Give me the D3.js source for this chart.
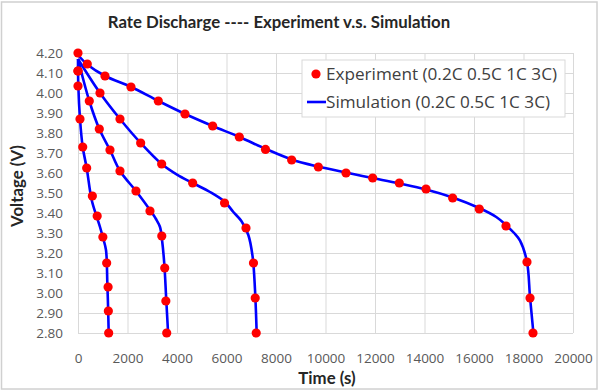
<!DOCTYPE html>
<html>
<head>
<meta charset="utf-8">
<title>Rate Discharge - Experiment v.s. Simulation</title>
<script src="https://d3js.org/d3.v7.min.js"></script>
<style>
body { margin: 0; background: #fff; }
svg { font-family: Lato, "Open Sans", sans-serif; }
.grid line { stroke: #d9d9d9; stroke-width: 1; }
.grid path { display: none; }
.tick text { fill: #595959; font-size: 13.5px; }
.sim { fill: none; stroke: #0000ff; stroke-width: 2.6; }
</style>
</head>
<body>
<div id="chart"></div>
<script>

// experiment points (time s, voltage V)
var exp02t = [0, 376, 1091, 2141, 3245, 4323, 5441, 6518, 7576, 8633, 9710, 10828, 11906, 12982, 14061, 15137, 16214, 17293, 18141, 18263, 18384];
var exp02v = [4.20, 4.145, 4.085, 4.03, 3.96, 3.895, 3.835, 3.78, 3.718, 3.665, 3.63, 3.60, 3.575, 3.55, 3.52, 3.475, 3.42, 3.335, 3.155, 2.975, 2.80];
var exp05t = [0, 889, 1697, 2532, 3380, 4633, 5920, 6788, 7090, 7160, 7200];
var exp05v = [4.11, 4.00, 3.87, 3.75, 3.645, 3.55, 3.45, 3.325, 3.15, 2.975, 2.80];
var exp1t = [0, 457, 861, 1293, 1697, 2343, 2909, 3385, 3505, 3550, 3584];
var exp1v = [4.11, 3.96, 3.82, 3.715, 3.61, 3.51, 3.41, 3.285, 3.125, 2.96, 2.80];
var exp3t = [0, 81, 190, 351, 580, 775, 1005, 1158, 1215, 1226, 1240];
var exp3v = [4.035, 3.87, 3.73, 3.625, 3.485, 3.385, 3.28, 3.15, 3.03, 2.91, 2.80];

// simulation curves
var sim02t = [0, 400, 1100, 2150, 3250, 4330, 5440, 6520, 7600, 8630, 9710, 10830, 11900, 12980, 14060, 15140, 16210, 16900, 17290, 17620, 17860, 18141, 18263, 18400];
var sim02v = [4.19, 4.14, 4.085, 4.03, 3.96, 3.895, 3.835, 3.78, 3.72, 3.668, 3.632, 3.602, 3.575, 3.548, 3.518, 3.478, 3.425, 3.38, 3.34, 3.30, 3.262, 3.155, 2.98, 2.80];
var sim05t = [0, 889, 1697, 2532, 3380, 4000, 4633, 5333, 5939, 6276, 6600, 6882, 7057, 7152, 7219];
var sim05v = [4.17, 4.00, 3.87, 3.75, 3.645, 3.592, 3.55, 3.505, 3.455, 3.405, 3.36, 3.29, 3.18, 3.015, 2.80];
var sim1t = [0, 457, 861, 1293, 1697, 2343, 2909, 3150, 3313, 3400, 3490, 3560, 3640];
var sim1v = [4.17, 3.96, 3.82, 3.715, 3.61, 3.51, 3.415, 3.37, 3.33, 3.26, 3.14, 2.98, 2.80];
var sim3t = [0, 12, 81, 190, 351, 553, 760, 889, 1024, 1131, 1185, 1215, 1240];
var sim3v = [4.17, 4.04, 3.87, 3.73, 3.625, 3.465, 3.38, 3.33, 3.27, 3.215, 3.05, 2.93, 2.80];

var xTicks = [0, 2000, 4000, 6000, 8000, 10000, 12000, 14000, 16000, 18000, 20000];
var yTicks = [2.8, 2.9, 3.0, 3.1, 3.2, 3.3, 3.4, 3.5, 3.6, 3.7, 3.8, 3.9, 4.0, 4.1, 4.2];

var width = 600;
var height = 392;
var plotL = 78, plotR = 573, plotT = 53, plotB = 333;

function zip(t, v) {
  return t.map(function(d, i) { return {t: d, v: v[i]}; });
}
var expSeries = [zip(exp02t, exp02v), zip(exp05t, exp05v), zip(exp1t, exp1v), zip(exp3t, exp3v)];
var simSeries = [zip(sim02t, sim02v), zip(sim05t, sim05v), zip(sim1t, sim1v), zip(sim3t, sim3v)];

var svg = d3.select("#chart").append("svg")
  .attr("width", width)
  .attr("height", height);

// outer frame
svg.append("rect")
  .attr("x", 1.5).attr("y", 2)
  .attr("width", 595.5).attr("height", 387)
  .attr("fill", "#fff")
  .attr("stroke", "#d0d0d0")
  .attr("stroke-width", 1.5);

/* Scale */
var x = d3.scaleLinear().domain([0, 20000]).range([plotL, plotR]);
var y = d3.scaleLinear().domain([2.8, 4.2]).range([plotB, plotT]);

/* Axes with gridlines */
svg.append("g")
  .attr("class", "grid")
  .attr("transform", "translate(0," + plotB + ")")
  .call(d3.axisBottom(x).tickValues(xTicks).tickSize(-(plotB - plotT)).tickPadding(20).tickFormat(d3.format("d")))
  .call(g => g.selectAll("text").attr("font-family", "Open Sans").attr("font-size", "13.5px"));

svg.append("g")
  .attr("class", "grid")
  .attr("transform", "translate(" + plotL + ",0)")
  .call(d3.axisLeft(y).tickValues(yTicks).tickSize(-(plotR - plotL)).tickPadding(15).tickFormat(d3.format(".2f")))
  .call(g => g.selectAll("text").attr("font-family", "Open Sans").attr("font-size", "13.5px"));

/* Simulation lines */
var line = d3.line()
  .x(d => x(d.t))
  .y(d => y(d.v))
  .curve(d3.curveCatmullRom.alpha(0.5));

svg.append("g").selectAll("path")
  .data(simSeries).enter()
  .append("path")
  .attr("class", "sim")
  .attr("d", line);

/* Experiment points */
svg.append("g").selectAll("g")
  .data(expSeries).enter()
  .append("g")
  .selectAll("circle")
  .data(d => d).enter()
  .append("circle")
  .attr("cx", d => x(d.t))
  .attr("cy", d => y(d.v))
  .attr("r", 4.6)
  .attr("fill", "#ff0000");

/* Titles */
svg.append("text")
  .attr("x", 279).attr("y", 28)
  .attr("text-anchor", "middle")
  .attr("font-weight", "bold")
  .attr("font-size", "16.8px")
  .attr("fill", "#262626")
  .text("Rate Discharge ---- Experiment v.s. Simulation");

svg.append("text")
  .attr("x", 327).attr("y", 384)
  .attr("text-anchor", "middle")
  .attr("font-weight", "bold")
  .attr("font-size", "16.8px")
  .attr("fill", "#262626")
  .text("Time (s)");

svg.append("text")
  .attr("transform", "translate(23,186) rotate(-90)")
  .attr("text-anchor", "middle")
  .attr("font-weight", "bold")
  .attr("font-size", "16.8px")
  .attr("fill", "#262626")
  .text("Voltage (V)");

/* Legend */
var legend = svg.append("g");
legend.append("rect")
  .attr("x", 302).attr("y", 60)
  .attr("width", 263).attr("height", 57)
  .attr("fill", "#fff")
  .attr("stroke", "#d9d9d9");
legend.append("circle")
  .attr("cx", 316).attr("cy", 74).attr("r", 4.6)
  .attr("fill", "#ff0000");
legend.append("line")
  .attr("x1", 307).attr("x2", 326).attr("y1", 102).attr("y2", 102)
  .attr("stroke", "#0000ff").attr("stroke-width", 2.6);
legend.append("text")
  .attr("x", 326).attr("y", 79.5)
  .attr("font-family", "Open Sans")
  .attr("font-size", "16px").attr("fill", "#404040")
  .attr("textLength", 231).attr("lengthAdjust", "spacingAndGlyphs")
  .text("Experiment (0.2C 0.5C 1C 3C)");
legend.append("text")
  .attr("x", 326).attr("y", 107.5)
  .attr("font-family", "Open Sans")
  .attr("font-size", "16px").attr("fill", "#404040")
  .attr("textLength", 224).attr("lengthAdjust", "spacingAndGlyphs")
  .text("Simulation (0.2C 0.5C 1C 3C)");

</script>
</body>
</html>
